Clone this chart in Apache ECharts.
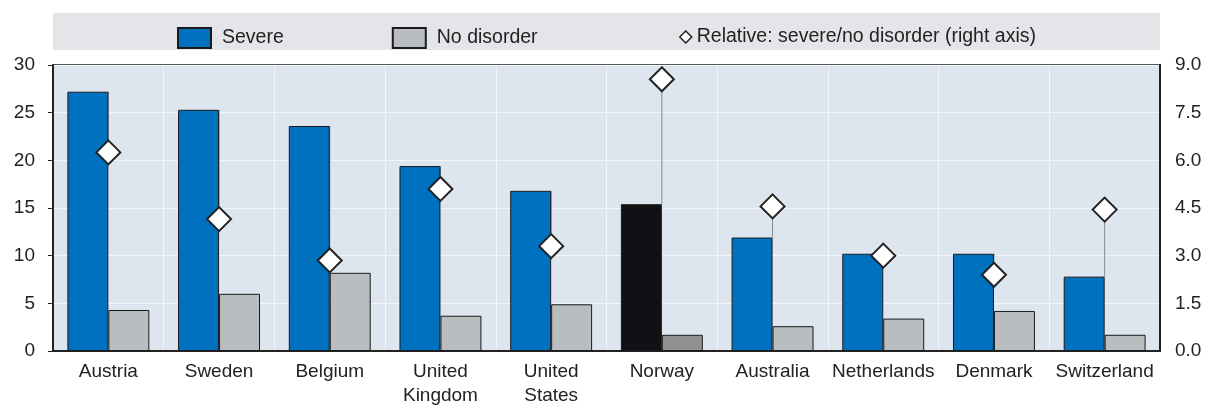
<!DOCTYPE html>
<html><head><meta charset="utf-8">
<script src="https://cdn.jsdelivr.net/npm/echarts@6/dist/echarts.min.js"></script>
<style>html,body{margin:0;padding:0;background:#fff}#c{width:1210px;height:408px}</style>
</head><body><div id="c"></div>
<script>
const categories = ['Austria','Sweden','Belgium','United\nKingdom','United\nStates','Norway','Australia','Netherlands','Denmark','Switzerland'];
const severe = [27.2, 25.3, 23.6, 19.4, 16.8, 15.4, 11.9, 10.2, 10.2, 7.8];
const noDisorder = [4.3, 6.0, 8.2, 3.7, 4.9, 1.7, 2.6, 3.4, 4.2, 1.7];
const relative = [6.25, 4.15, 2.85, 5.1, 3.3, 8.55, 4.55, 3.0, 2.4, 4.45];
const leftTicks = [0, 30, 5];
const rightTicks = [0, 9, 1.5];
const highlight = 'Norway';

const FONT = '"Liberation Sans", Arial, sans-serif';
const chart = echarts.init(document.getElementById('c'), null, {renderer:'canvas'});

const severeData = severe.map((v,i)=> categories[i]===highlight ? {value:v, itemStyle:{color:'#111014'}} : v);
const noData = noDisorder.map((v,i)=> categories[i]===highlight ? {value:v, itemStyle:{color:'#8e9092'}} : v);
const dropData = relative.map((v,i)=>[i, v, severe[i]]);
const REL = 'Relative: severe/no disorder (right axis)';

chart.setOption({
  animation:false,
  textStyle:{fontFamily:FONT},
  graphic:[{type:'rect', shape:{x:53,y:13,width:1107,height:37}, style:{fill:'#e3e5e8'}, z:-1}],
  legend:[
    {top:22, left:172, itemGap:108, itemWidth:33, itemHeight:20,
     textStyle:{fontFamily:FONT, fontSize:19.5, color:'#222', padding:[0,0,0,6]},
     data:[{name:'Severe', icon:'rect'},{name:'No disorder', icon:'rect'}]},
    {top:22, left:674, itemWidth:12, itemHeight:12,
     textStyle:{fontFamily:FONT, fontSize:19.5, color:'#222', padding:[0,0,0,0]},
     data:[{name:REL, icon:'diamond', itemStyle:{color:'#fff', borderColor:'#222', borderWidth:1.5}}]}
  ],
  grid:{left:53, right:50, top:65, bottom:56, show:true, backgroundColor:'#dde5ef', borderColor:'#222', borderWidth:1.5, containLabel:false},
  xAxis:{
    type:'category', data:categories,
    axisLine:{show:true, lineStyle:{color:'#222', width:2}},
    axisTick:{show:false},
    axisLabel:{fontFamily:FONT, fontSize:19, color:'#222', margin:9, lineHeight:24, interval:0},
    splitLine:{show:true, lineStyle:{color:'#f3f6fa', width:1}}
  },
  yAxis:[
    {type:'value', min:leftTicks[0], max:leftTicks[1], interval:leftTicks[2], position:'left',
     axisLine:{show:true, lineStyle:{color:'#222', width:2}},
     axisTick:{show:true, length:5, lineStyle:{color:'#222'}},
     axisLabel:{fontFamily:FONT, fontSize:19, color:'#222', margin:18},
     splitLine:{show:true, lineStyle:{color:'#f3f6fa', width:1}}},
    {type:'value', min:rightTicks[0], max:rightTicks[1], interval:rightTicks[2], position:'right',
     axisLine:{show:true, lineStyle:{color:'#222', width:2}},
     axisTick:{show:false},
     axisLabel:{fontFamily:FONT, fontSize:19, color:'#222', margin:15, formatter:v=>v.toFixed(1)},
     splitLine:{show:false}}
  ],
  series:[
    {name:'Severe', type:'bar', data:severeData, barWidth:'37%', barGap:'0%', z:3,
     itemStyle:{color:'#0071bf', borderColor:'#1a1a1a', borderWidth:1}},
    {name:'No disorder', type:'bar', data:noData, barWidth:'37%', barGap:'0%', z:3,
     itemStyle:{color:'#b9bdc0', borderColor:'#1a1a1a', borderWidth:1}},
    {name:'drop', type:'custom', yAxisIndex:0, z:1, silent:true, data:dropData,
     renderItem:function(params, api){
       const i = api.value(0);
       const relOnLeft = api.value(1) * (leftTicks[1]/rightTicks[1]);
       const p1 = api.coord([i, api.value(2)]);
       const p2 = api.coord([i, relOnLeft]);
       return {type:'line', shape:{x1:p1[0], y1:p1[1], x2:p2[0], y2:p2[1]}, style:{stroke:'#8a8a8a', lineWidth:1}};
     }},
    {name:REL, type:'scatter', yAxisIndex:1, data:relative,
     symbol:'diamond', symbolSize:[24,24], z:5,
     itemStyle:{color:'#ffffff', opacity:1, borderColor:'#222', borderWidth:2}}
  ]
});
</script></body></html>
